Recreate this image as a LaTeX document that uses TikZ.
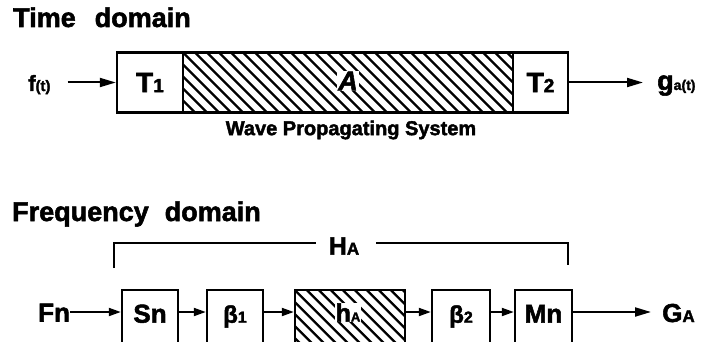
\documentclass[tikz,border=0pt]{standalone}
\usepackage{fontspec}
\setmainfont{Liberation Sans}[BoldFeatures={FakeBold=2},BoldItalicFeatures={FakeBold=2}]
\usetikzlibrary{arrows.meta}
\newcommand{\fsz}[1]{\fontsize{#1}{#1}\selectfont}
\begin{document}
\begin{tikzpicture}[x=1pt,y=-1pt,
  box/.style={draw,line width=2.4pt,rectangle,inner sep=0pt,font=\fsz{26}\bfseries},
  hatch/.style={path picture={\foreach \i in {-8,...,32}{\draw[line width=2.2pt] ([xshift=\i*12pt]path picture bounding box.north west) -- ++(80pt,-80pt);}}},
  arr/.style={line width=2pt,-{Triangle[length=16pt,width=9pt]}},
  sarr/.style={line width=2pt,-{Triangle[length=12pt,width=8pt]}},
  lbl/.style={inner sep=0pt,font=\bfseries},
  bot/.style={box,anchor=north,minimum height=57pt,text height=19pt,text depth=11pt},
  brk/.style={line width=2pt},
]
\useasboundingbox (0,0) rectangle (703,342);
\clip (0,0) rectangle (703,342);

% ---------- Time domain ----------
\node[lbl,anchor=base west,font=\fsz{27}\bfseries] (tdom) at (13,27) {Time\hspace{19pt}domain};

\node[box,minimum width=66pt,minimum height=60pt,font=\fsz{28}\bfseries] (t1) at (150,82.5) {T{\fsz{19}1}};
\node[box,hatch,minimum width=330pt,minimum height=60pt] (a) at (348,82.5) {};
\node[box,minimum width=55pt,minimum height=60pt,font=\fsz{28}\bfseries] (t2) at (540.5,82.5) {T{\fsz{19}2}};
\node[lbl,fill=white,inner sep=1pt,font=\fsz{27}\bfseries\itshape] (alab) at (348,81) {A};
\node[lbl,font=\fsz{20}\bfseries] (wps) at (351,130) {Wave Propagating System};

\node[lbl,anchor=base west] (ft) at (28,91) {{\fsz{22}f}{\fsz{15}(t)}};
\node[lbl,anchor=base west] (gat) at (657,90) {{\fsz{27}g}{\fsz{14}a(t)}};
\draw[arr,shorten <=17pt] (ft.east |- t1.west) -- (t1.west);
\draw[arr,shorten >=14pt] (t2.east) -- (gat.west |- t2.east);

% ---------- Frequency domain ----------
\node[lbl,anchor=base west,font=\fsz{27}\bfseries] (fdom) at (12,221) {Frequency\hspace{16pt}domain};

\node[lbl,font=\fsz{25}\bfseries] (HAn) at (344,246) {H{\fsz{17}A}};
\coordinate (bt) at (0,243);
\coordinate (bl) at (114,268);
\coordinate (br) at (568,265);
\coordinate (hl) at ([xshift=-13pt]HAn.west);
\coordinate (hr) at ([xshift=17pt]HAn.east);
\draw[brk] (bl) |- (hl |- bt);
\draw[brk] (hr |- bt) -| (br);

\coordinate (row) at (0,312);
\node[bot,minimum width=56pt] (sn) at (150,289) {Sn};
\node[bot,minimum width=56pt,font=\fsz{24}\bfseries] (b1) at (235,289) {β{\fsz{16}1}};
\node[bot,hatch,minimum width=110pt] (ha) at (350,289) {};
\node[lbl,fill=white,inner sep=0.5pt,anchor=base,font=\fsz{25}\bfseries] (halab) at (348,321.5) {h{\fsz{13}A}};
\node[bot,minimum width=58pt,font=\fsz{24}\bfseries] (b2) at (461,289) {β{\fsz{16}2}};
\node[bot,minimum width=57pt] (mn) at (543.5,289) {Mn};
\node[lbl,anchor=base west,font=\fsz{26}\bfseries] (fn) at (38,321.5) {Fn};
\node[lbl,anchor=base west,font=\fsz{26}\bfseries] (GAn) at (662,322) {G{\fsz{17}A}};

\draw[sarr] (fn.east |- row) -- (sn.west |- row);
\draw[sarr] (sn.east |- row) -- (b1.west |- row);
\draw[sarr] (b1.east |- row) -- (ha.west |- row);
\draw[sarr] (ha.east |- row) -- (b2.west |- row);
\draw[sarr] (b2.east |- row) -- (mn.west |- row);
\draw[arr,shorten >=11pt] (mn.east |- row) -- (GAn.west |- row);
\end{tikzpicture}
\end{document}
